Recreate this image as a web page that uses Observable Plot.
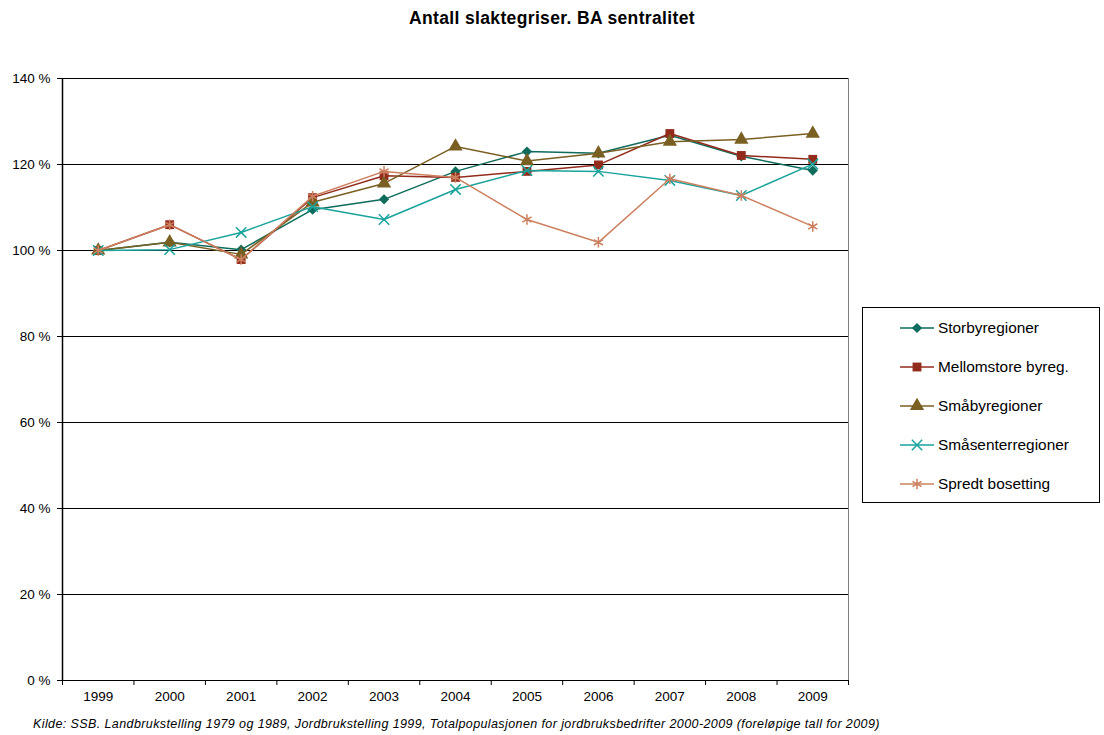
<!DOCTYPE html>
<html>
<head>
<meta charset="utf-8">
<script src="https://cdn.jsdelivr.net/npm/d3@7"></script>
<script src="https://cdn.jsdelivr.net/npm/@observablehq/plot@0.6"></script>
<style>
  body { margin: 0; background: #fff; font-family: "Liberation Sans", Arial, sans-serif; }
  #wrap { position: relative; width: 1104px; height: 735px; }
  #title { position: absolute; left: 0; width: 1104px; top: 8px; text-align: center; font-weight: bold; font-size: 17.5px; letter-spacing: 0.35px; }
  #caption { position: absolute; left: 33px; top: 717px; font-style: italic; font-size: 12.5px; letter-spacing: 0.4px; white-space: nowrap; }
  #legend { position: absolute; left: 862px; top: 307px; width: 236px; height: 194px; border: 1px solid #000; background: #fff; }
  .row { position: absolute; left: 0; height: 20px; display: flex; align-items: center; font-size: 15.4px; }
  .row svg { margin-left: 37px; margin-right: 4px; }
</style>
</head>
<body>
<div id="wrap">
  <div id="title"></div>
  <div id="chart"></div>
  <div id="legend"></div>
  <div id="caption"></div>
</div>
<script>
const titleText = "Antall slaktegriser. BA sentralitet";
const captionText = "Kilde: SSB. Landbrukstelling 1979 og 1989, Jordbrukstelling 1999, Totalpopulasjonen for jordbruksbedrifter 2000-2009 (foreløpige tall for 2009)";

const years = [1999, 2000, 2001, 2002, 2003, 2004, 2005, 2006, 2007, 2008, 2009];
const seriesNames = ["Storbyregioner", "Mellomstore byreg.", "Småbyregioner", "Småsenterregioner", "Spredt bosetting"];
const seriesColors = ["#0f6b5b", "#922b1c", "#7a5f22", "#19a39b", "#cd8060"];
const seriesSymbols = ["diamond2", "square", "triangle", "times", "asterisk"];
const seriesFilled = [true, true, true, false, false];
const seriesRadius = [4.6, 5, 5.3, 4.8, 5];

const storbyregioner     = [100, 101.9, 100.2, 109.5, 111.9, 118.4, 123.0, 122.6, 126.8, 121.9, 118.6];
const mellomstoreByreg   = [100, 106.0,  97.9, 112.3, 117.4, 117.0, 118.4, 119.9, 127.2, 122.1, 121.2];
const smabyregioner      = [100, 101.9,  99.1, 111.2, 115.6, 124.2, 120.8, 122.6, 125.3, 125.8, 127.2];
const smasenterregioner  = [100, 100.2, 104.2, 110.2, 107.2, 114.2, 118.6, 118.4, 116.3, 112.8, 120.1];
const spredtBosetting    = [100, 106.0,  97.9, 112.6, 118.4, 117.0, 107.2, 101.9, 116.7, 112.8, 105.6];
const seriesValues = [storbyregioner, mellomstoreByreg, smabyregioner, smasenterregioner, spredtBosetting];

const yTicks = [0, 20, 40, 60, 80, 100, 120, 140];

document.getElementById("title").textContent = titleText;
document.getElementById("caption").textContent = captionText;

const data = seriesNames.flatMap((s, i) => years.map((yr, j) => ({series: s, year: yr, value: seriesValues[i][j]})));
const boundaries = [...years.map(y => y - 0.5), years[years.length - 1] + 0.5];

const seriesMarks = seriesNames.flatMap((s, i) => {
  const sub = data.filter(d => d.series === s);
  return [
    Plot.line(sub, {x: "year", y: "value", stroke: "series", strokeWidth: 1.5}),
    seriesFilled[i]
      ? Plot.dot(sub, {x: "year", y: "value", symbol: seriesSymbols[i], fill: "series", stroke: "none", r: seriesRadius[i]})
      : Plot.dot(sub, {x: "year", y: "value", symbol: seriesSymbols[i], stroke: "series", fill: "none", strokeWidth: 1.5, r: seriesRadius[i]})
  ];
});

const chart = Plot.plot({
  width: 1104,
  height: 735,
  marginLeft: 62,
  marginRight: 256,
  marginTop: 78,
  marginBottom: 55,
  x: {type: "linear", domain: [years[0] - 0.5, years[years.length - 1] + 0.5]},
  y: {domain: [0, 140]},
  color: {domain: seriesNames, range: seriesColors},
  style: {fontFamily: "Liberation Sans, Arial, sans-serif", fontSize: "13.5px", color: "#000", background: "transparent", overflow: "visible"},
  marks: [
    Plot.ruleY(yTicks.filter(v => v > 0), {stroke: "#000", strokeWidth: 1}),
    Plot.ruleX([boundaries[boundaries.length - 1]], {stroke: "#808080", strokeWidth: 1}),
    Plot.axisY({ticks: yTicks, tickFormat: d => d + " %", tickSize: 5, tickPadding: 7, label: null, stroke: "#000", fontSize: 13.5}),
    Plot.axisX({ticks: boundaries, tickFormat: () => "", tickSize: 5, label: null, stroke: "#000"}),
    Plot.axisX({ticks: years, tickFormat: d => String(d), tickSize: 0, tickPadding: 11, label: null, fontSize: 13.5}),
    Plot.ruleY([0], {stroke: "#000", strokeWidth: 1}),
    Plot.ruleX([boundaries[0]], {stroke: "#000", strokeWidth: 1.5}),
    ...seriesMarks
  ]
});
document.getElementById("chart").appendChild(chart);

// Legend
const legend = document.getElementById("legend");
const symMap = {diamond2: d3.symbolDiamond2, square: d3.symbolSquare, triangle: d3.symbolTriangle, times: d3.symbolTimes, asterisk: d3.symbolAsterisk};
seriesNames.forEach((s, i) => {
  const row = document.createElement("div");
  row.className = "row";
  row.style.top = (10 + i * 39) + "px";
  const ns = "http://www.w3.org/2000/svg";
  const svg = document.createElementNS(ns, "svg");
  svg.setAttribute("width", 34);
  svg.setAttribute("height", 20);
  const line = document.createElementNS(ns, "line");
  line.setAttribute("x1", 0); line.setAttribute("x2", 34);
  line.setAttribute("y1", 10); line.setAttribute("y2", 10);
  line.setAttribute("stroke", seriesColors[i]); line.setAttribute("stroke-width", 1.5);
  svg.appendChild(line);
  const r = seriesRadius[i];
  const p = document.createElementNS(ns, "path");
  p.setAttribute("d", d3.symbol(symMap[seriesSymbols[i]], Math.PI * r * r)());
  p.setAttribute("transform", "translate(17,10)");
  if (seriesFilled[i]) { p.setAttribute("fill", seriesColors[i]); }
  else { p.setAttribute("fill", "none"); p.setAttribute("stroke", seriesColors[i]); p.setAttribute("stroke-width", 1.5); }
  svg.appendChild(p);
  row.appendChild(svg);
  const t = document.createElement("span");
  t.textContent = s;
  row.appendChild(t);
  legend.appendChild(row);
});
</script>
</body>
</html>
